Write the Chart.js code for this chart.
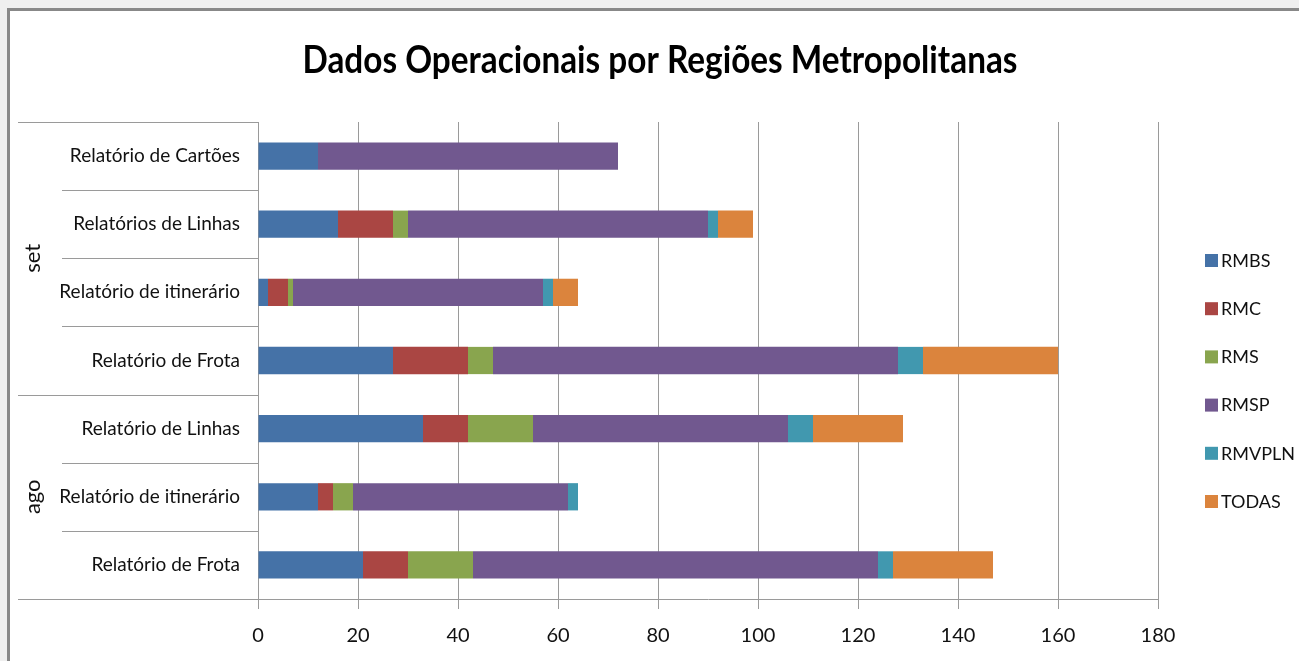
<!DOCTYPE html>
<html>
<head>
<meta charset="utf-8">
<title>Dados Operacionais por Regiões Metropolitanas</title>
<script src="https://cdn.jsdelivr.net/npm/chart.js@4.4.1/dist/chart.umd.min.js"></script>
<style>
  html, body { margin: 0; padding: 0; background: #efefef; overflow: hidden; }
  #moldura { position: absolute; left: 7px; top: 8px; width: 1300px; height: 660px;
             background: #fff; border-left: 3px solid #888; border-top: 3px solid #888; }
  #grafico { position: absolute; left: 0; top: 0; }
</style>
</head>
<body>
<div id="moldura"></div>
<canvas id="grafico" width="1299" height="661"></canvas>
<script>
const titulo = "Dados Operacionais por Regiões Metropolitanas";

// categorias de cima para baixo
const meses = ["set", "set", "set", "set", "ago", "ago", "ago"];
const relatorios = [
  "Relatório de Cartões",
  "Relatórios de Linhas",
  "Relatório de itinerário",
  "Relatório de Frota",
  "Relatório de Linhas",
  "Relatório de itinerário",
  "Relatório de Frota"
];

// valores por região
const RMBS   = [12, 16,  2, 27, 33, 12, 21];
const RMC    = [ 0, 11,  4, 15,  9,  3,  9];
const RMS    = [ 0,  3,  1,  5, 13,  4, 13];
const RMSP   = [60, 60, 50, 81, 51, 43, 81];
const RMVPLN = [ 0,  2,  2,  5,  5,  2,  3];
const TODAS  = [ 0,  7,  5, 27, 18,  0, 20];

const ticksX = [0, 20, 40, 60, 80, 100, 120, 140, 160, 180];

const fonte = 'Lato, "DejaVu Sans Condensed", sans-serif';
const cinza = "#9a9a9a";

// título, rótulos de mês, separadores e legenda
const eixoAgrupado = {
  id: "eixoAgrupado",
  afterDraw(chart) {
    const { ctx, chartArea } = chart;
    const y = chart.scales.y;
    const esq = chartArea.left;
    ctx.save();

    // título (um pouco estreitado, como a fonte original)
    ctx.fillStyle = "#000";
    ctx.font = "bold 38px " + fonte;
    ctx.textAlign = "center";
    ctx.textBaseline = "middle";
    ctx.save();
    ctx.translate(660, 61);
    ctx.scale(715 / ctx.measureText(titulo).width, 1);
    ctx.fillText(titulo, 0, 0);
    ctx.restore();

    ctx.strokeStyle = cinza;
    ctx.lineWidth = 1;
    const limites = [chartArea.top];
    for (let i = 0; i < relatorios.length - 1; i++) {
      limites.push((y.getPixelForValue(i) + y.getPixelForValue(i + 1)) / 2);
    }
    limites.push(chartArea.bottom);

    limites.forEach((py, i) => {
      const grupo = i === 0 || i === limites.length - 1 || meses[i] !== meses[i - 1];
      const x0 = grupo ? 18 : 62;
      ctx.beginPath();
      ctx.moveTo(x0, Math.round(py) + 0.5);
      ctx.lineTo(esq, Math.round(py) + 0.5);
      ctx.stroke();
    });

    // nomes dos meses girados
    ctx.fillStyle = "#111";
    ctx.font = "22px " + fonte;
    let ini = 0;
    for (let i = 1; i <= meses.length; i++) {
      if (i === meses.length || meses[i] !== meses[ini]) {
        const meio = (limites[ini] + limites[i]) / 2;
        ctx.save();
        ctx.translate(33, meio);
        ctx.rotate(-Math.PI / 2);
        ctx.fillText(meses[ini], 0, 0);
        ctx.restore();
        ini = i;
      }
    }

    // legenda
    ctx.font = "18px " + fonte;
    ctx.textAlign = "left";
    chart.data.datasets.forEach((ds, i) => {
      const cy = 260 + i * 48.2;
      ctx.fillStyle = ds.backgroundColor;
      ctx.fillRect(1205, cy - 6, 13, 13);
      ctx.fillStyle = "#111";
      ctx.fillText(ds.label, 1221, cy + 1);
    });
    ctx.restore();
  }
};

new Chart(document.getElementById("grafico").getContext("2d"), {
  type: "bar",
  data: {
    labels: relatorios,
    datasets: [
      { label: "RMBS",   data: RMBS,   backgroundColor: "#4572A7" },
      { label: "RMC",    data: RMC,    backgroundColor: "#AA4643" },
      { label: "RMS",    data: RMS,    backgroundColor: "#89A54E" },
      { label: "RMSP",   data: RMSP,   backgroundColor: "#71588F" },
      { label: "RMVPLN", data: RMVPLN, backgroundColor: "#4198AF" },
      { label: "TODAS",  data: TODAS,  backgroundColor: "#DB843D" }
    ]
  },
  options: {
    indexAxis: "y",
    responsive: false,
    devicePixelRatio: 1,
    animation: false,
    categoryPercentage: 1,
    barPercentage: 0.4,
    layout: { padding: { left: 18, right: 141, top: 122, bottom: 10 } },
    plugins: {
      legend: { display: false },
      tooltip: { enabled: false },
      title: { display: false }
    },
    scales: {
      x: {
        stacked: true,
        min: 0,
        max: 180,
        afterBuildTicks(scale) { scale.ticks = ticksX.map(v => ({ value: v })); },
        afterFit(scale) { scale.height = 52; },
        grid: { color: cinza, tickLength: 10 },
        border: { color: cinza },
        ticks: { color: "#111", padding: 15, font: { family: fonte, size: 20 } }
      },
      y: {
        stacked: true,
        grid: { display: false },
        border: { display: true, color: cinza },
        afterFit(scale) { scale.width = 240; },
        ticks: { color: "#111", padding: 10, font: { family: fonte, size: 19 } }
      }
    }
  },
  plugins: [eixoAgrupado]
});
</script>
</body>
</html>
